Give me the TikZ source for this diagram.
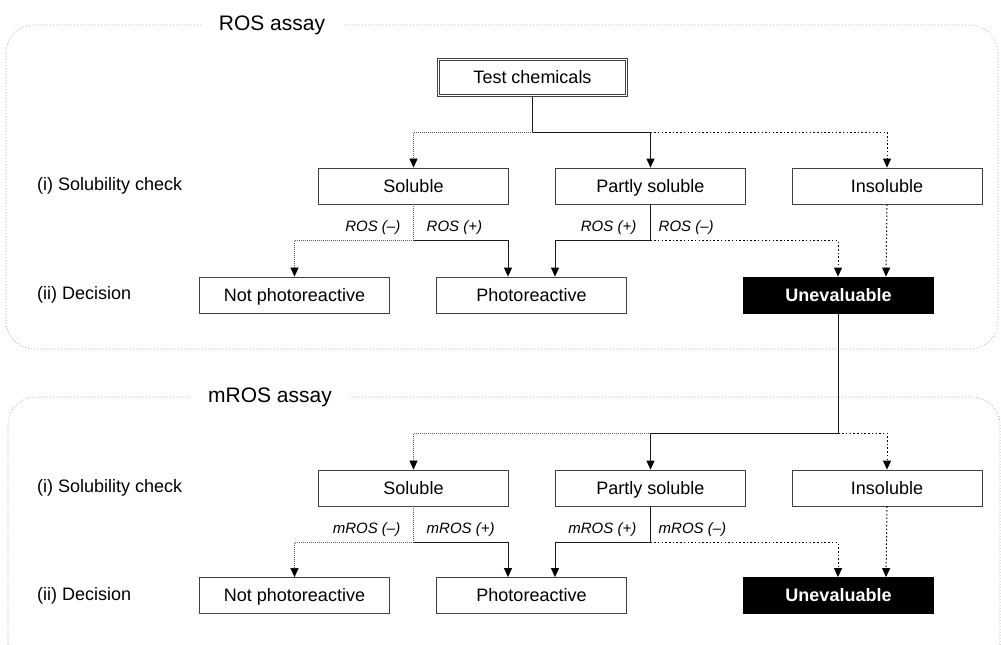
\documentclass[tikz,border=0pt]{standalone}
\usepackage{fontspec}
\setmainfont{Liberation Sans}
\usetikzlibrary{arrows.meta}
\begin{document}
\begin{tikzpicture}[x=1pt,y=-1pt,
  box/.style={draw=black!75, line width=0.8pt, fill=white, minimum width=190pt, minimum height=36pt, inner sep=0pt, text height=14pt, text depth=1.5pt, font=\fontsize{18}{20}\selectfont},
  badbox/.style={box, fill=black, draw=black, text=white, font=\fontsize{18}{20}\selectfont\bfseries},
  lab/.style={font=\fontsize{15}{17}\selectfont\itshape, inner sep=0pt},
  side/.style={font=\fontsize{18}{20}\selectfont, anchor=west, inner sep=0pt},
  title/.style={font=\fontsize{21}{23}\selectfont, fill=white, inner xsep=18pt, inner ysep=2pt},
  frame/.style={draw=black!35, line width=0.6pt, dash pattern=on 1pt off 2pt, rounded corners=28pt},
  fine/.style={draw=black!65, line width=0.6pt, dash pattern=on 0.8pt off 1.2pt},
  coarse/.style={draw=black, line width=1pt, dash pattern=on 1.5pt off 2.2pt},
  full/.style={draw=black!90, line width=0.9pt},
  tip/.style={-{Triangle[length=9pt,width=8pt,color=black,fill=black]}}
]
\useasboundingbox (0,0) rectangle (1001,645);
\clip (0,0) rectangle (1001,645);

% group frames
\draw[frame] (6,25) rectangle (998,349);
\draw[frame] (8,397) rectangle (1000,672);
\node[title] (t1) at (272,25) {ROS assay};
\node[title] (t2) at (270,397) {mROS assay};

% side labels
\node[side] (s1) at (37,186) {(i) Solubility check};
\node[side] (s2) at (37,295) {(ii) Decision};
\node[side] (s3) at (37,488) {(i) Solubility check};
\node[side] (s4) at (37,596) {(ii) Decision};

% ---- ROS assay ----
\node[box, double, double distance=1.6pt, minimum width=188pt, minimum height=36pt] (test) at (532.5,77.5) {Test chemicals};
\node[box] (sol) at (413.5,186) {Soluble};
\node[box] (par) at (650.5,186) {Partly soluble};
\node[box] (ins) at (887,186) {Insoluble};
\node[box] (notp) at (294.5,295) {Not photoreactive};
\node[box] (pho) at (531.5,295) {Photoreactive};
\node[badbox] (unev) at (838.5,295) {Unevaluable};

\coordinate (j1) at (532.5,132);
\draw[full] (test.south) -- (j1);
\draw[fine,tip] (j1) -| (sol.north);
\draw[full,tip] (j1) -| (par.north);
\draw[coarse,tip] (j1 -| par.north) -| (ins.north);

\draw[fine] (sol.south) -- ++(0,36) coordinate (b1);
\draw[fine,tip] (b1) -| (notp.north);
\draw[full,tip] (b1) -| ([xshift=-23.5pt]pho.north);
\draw[full] (par.south) -- ++(0,36) coordinate (b2);
\draw[full,tip] (b2) -| ([xshift=23.5pt]pho.north);
\draw[coarse,tip] (b2) -| ([xshift=-0.5pt]unev.north);
\draw[coarse,tip] (ins.south) -- ([xshift=47.5pt]unev.north);

\node[lab, anchor=base east] (l1) at ([shift={(-13,-9)}]b1) {ROS (--)};
\node[lab, anchor=base west] (l2) at ([shift={(13,-9)}]b1) {ROS (+)};
\node[lab, anchor=base east] (l3) at ([shift={(-14,-9)}]b2) {ROS (+)};
\node[lab, anchor=base west] (l4) at ([shift={(8,-9)}]b2) {ROS (--)};

% ---- mROS assay ----
\node[box] (sol2) at (413.5,488) {Soluble};
\node[box] (par2) at (650.5,488) {Partly soluble};
\node[box] (ins2) at (887,488) {Insoluble};
\node[box] (notp2) at (294.5,595.5) {Not photoreactive};
\node[box] (pho2) at (531.5,595.5) {Photoreactive};
\node[badbox] (unev2) at (838.5,595.5) {Unevaluable};

\coordinate (j2) at (838.5,433);
\draw[full] (unev.south) -- (j2);
\draw[fine,tip] (j2 -| par2.north) -| (sol2.north);
\draw[full,tip] (j2) -| (par2.north);
\draw[coarse,tip] (j2) -| (ins2.north);

\draw[fine] (sol2.south) -- ++(0,36) coordinate (c1);
\draw[fine,tip] (c1) -| (notp2.north);
\draw[full,tip] (c1) -| ([xshift=-23.5pt]pho2.north);
\draw[full] (par2.south) -- ++(0,36) coordinate (c2);
\draw[full,tip] (c2) -| ([xshift=23.5pt]pho2.north);
\draw[coarse,tip] (c2) -| ([xshift=-0.5pt]unev2.north);
\draw[coarse,tip] (ins2.south) -- ([xshift=47.5pt]unev2.north);

\node[lab, anchor=base east] (m1) at ([shift={(-13,-9)}]c1) {mROS (--)};
\node[lab, anchor=base west] (m2) at ([shift={(13,-9)}]c1) {mROS (+)};
\node[lab, anchor=base east] (m3) at ([shift={(-14,-9)}]c2) {mROS (+)};
\node[lab, anchor=base west] (m4) at ([shift={(8,-9)}]c2) {mROS (--)};
\end{tikzpicture}
\end{document}
